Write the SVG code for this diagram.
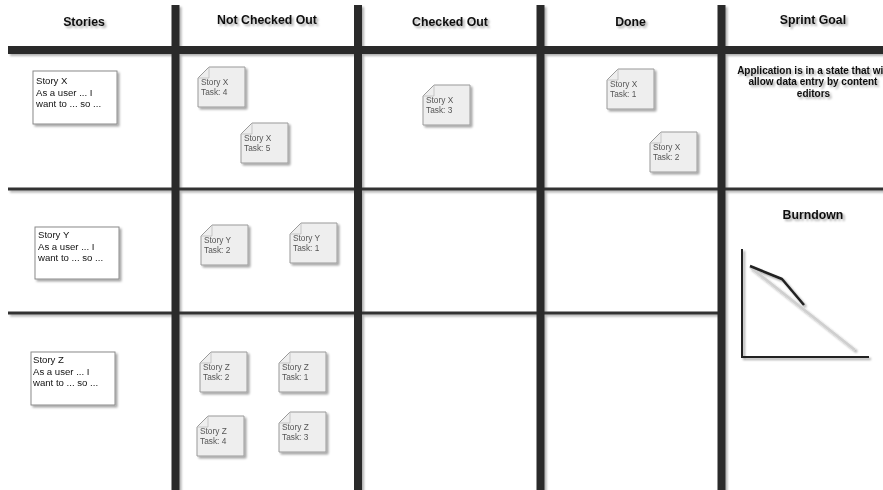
<svg xmlns="http://www.w3.org/2000/svg" width="883" height="490" viewBox="0 0 883 490">
  <defs>
    <filter id="shadow" x="-20%" y="-20%" width="140%" height="140%">
      <feDropShadow dx="2" dy="2" stdDeviation="1.2" flood-color="#000" flood-opacity="0.35"/>
    </filter>
    <filter id="lineShadow" x="-50%" y="-50%" width="200%" height="200%">
      <feDropShadow dx="2" dy="2" stdDeviation="1.3" flood-color="#000" flood-opacity="0.3"/>
    </filter>
    <!-- task sticky note with folded top-left corner, 47 x 40 -->
    <path id="note" d="M11,0 H47 V40 H0 V11 Z"/>
  </defs>
  <style>
    .bar { stroke: #2b2b2b; stroke-width: 8; fill: none; }
    .rule { stroke: #333; stroke-width: 3; fill: none; }
    .head { font-family: "Liberation Sans", Arial, sans-serif; font-weight: bold; font-size: 12.3px; fill: #111; text-anchor: middle; }
    .goal { font-family: "Liberation Sans", Arial, sans-serif; font-weight: bold; font-size: 10px; fill: #111; text-anchor: middle; }
    .card rect { fill: #fff; stroke: #8a8a8a; stroke-width: 1; }
    .card text { font-family: "Liberation Sans", Arial, sans-serif; font-size: 9.6px; fill: #111; }
    .task use { fill: #eeeeee; stroke: #9a9a9a; stroke-width: 1; }
    .task .fold { fill: none; stroke: #bbb; stroke-width: 0.8; }
    .task text { font-family: "Liberation Sans", Arial, sans-serif; font-size: 8.3px; fill: #555; }
    .axis { stroke: #222; stroke-width: 2; fill: none; }
    .ideal { stroke: #cfcfcf; stroke-width: 2.5; fill: none; }
    .actual { stroke: #222; stroke-width: 2.5; fill: none; stroke-linejoin: round; }
  </style>

  <rect width="883" height="490" fill="#fff"/>

  <!-- board grid -->
  <g id="grid" filter="url(#lineShadow)">
    <line class="rule" x1="8" y1="189" x2="883" y2="189"/>
    <line class="rule" x1="8" y1="313" x2="721" y2="313"/>
    <line class="bar" x1="8" y1="50" x2="883" y2="50"/>
    <line class="bar" x1="175.5" y1="5" x2="175.5" y2="490"/>
    <line class="bar" x1="358" y1="5" x2="358" y2="490"/>
    <line class="bar" x1="540.5" y1="5" x2="540.5" y2="490"/>
    <line class="bar" x1="721.5" y1="5" x2="721.5" y2="490"/>
  </g>

  <!-- column headings -->
  <g id="headings" filter="url(#shadow)">
    <text class="head" x="84" y="26">Stories</text>
    <text class="head" x="267" y="24">Not Checked Out</text>
    <text class="head" x="450" y="26">Checked Out</text>
    <text class="head" x="630.5" y="26">Done</text>
    <text class="head" x="813" y="24">Sprint Goal</text>
  </g>

  <!-- story cards -->
  <g id="story-x" class="card" filter="url(#shadow)">
    <rect x="33" y="71" width="84" height="53"/>
    <text x="36" y="84">Story X</text>
    <text x="36" y="95.5">As a user ... I</text>
    <text x="36" y="107">want to ... so ...</text>
  </g>
  <g id="story-y" class="card" filter="url(#shadow)">
    <rect x="35" y="227" width="84" height="52"/>
    <text x="38" y="238">Story Y</text>
    <text x="38" y="249.5">As a user ... I</text>
    <text x="38" y="261">want to ... so ...</text>
  </g>
  <g id="story-z" class="card" filter="url(#shadow)">
    <rect x="31" y="352" width="84" height="53"/>
    <text x="33" y="363">Story Z</text>
    <text x="33" y="374.5">As a user ... I</text>
    <text x="33" y="386">want to ... so ...</text>
  </g>

  <!-- task notes -->
  <g id="task-x4" class="task" filter="url(#shadow)" transform="translate(198,67)">
    <use href="#note"/><path class="fold" d="M0,11 L11,11 L11,0"/>
    <text x="3" y="18">Story X</text><text x="3" y="28">Task: 4</text>
  </g>
  <g id="task-x5" class="task" filter="url(#shadow)" transform="translate(241,123)">
    <use href="#note"/><path class="fold" d="M0,11 L11,11 L11,0"/>
    <text x="3" y="18">Story X</text><text x="3" y="28">Task: 5</text>
  </g>
  <g id="task-x3" class="task" filter="url(#shadow)" transform="translate(423,85)">
    <use href="#note"/><path class="fold" d="M0,11 L11,11 L11,0"/>
    <text x="3" y="18">Story X</text><text x="3" y="28">Task: 3</text>
  </g>
  <g id="task-x1" class="task" filter="url(#shadow)" transform="translate(607,69)">
    <use href="#note"/><path class="fold" d="M0,11 L11,11 L11,0"/>
    <text x="3" y="18">Story X</text><text x="3" y="28">Task: 1</text>
  </g>
  <g id="task-x2" class="task" filter="url(#shadow)" transform="translate(650,132)">
    <use href="#note"/><path class="fold" d="M0,11 L11,11 L11,0"/>
    <text x="3" y="18">Story X</text><text x="3" y="28">Task: 2</text>
  </g>
  <g id="task-y2" class="task" filter="url(#shadow)" transform="translate(201,225)">
    <use href="#note"/><path class="fold" d="M0,11 L11,11 L11,0"/>
    <text x="3" y="18">Story Y</text><text x="3" y="28">Task: 2</text>
  </g>
  <g id="task-y1" class="task" filter="url(#shadow)" transform="translate(290,223)">
    <use href="#note"/><path class="fold" d="M0,11 L11,11 L11,0"/>
    <text x="3" y="18">Story Y</text><text x="3" y="28">Task: 1</text>
  </g>
  <g id="task-z2" class="task" filter="url(#shadow)" transform="translate(200,352)">
    <use href="#note"/><path class="fold" d="M0,11 L11,11 L11,0"/>
    <text x="3" y="18">Story Z</text><text x="3" y="28">Task: 2</text>
  </g>
  <g id="task-z1" class="task" filter="url(#shadow)" transform="translate(279,352)">
    <use href="#note"/><path class="fold" d="M0,11 L11,11 L11,0"/>
    <text x="3" y="18">Story Z</text><text x="3" y="28">Task: 1</text>
  </g>
  <g id="task-z4" class="task" filter="url(#shadow)" transform="translate(197,416)">
    <use href="#note"/><path class="fold" d="M0,11 L11,11 L11,0"/>
    <text x="3" y="18">Story Z</text><text x="3" y="28">Task: 4</text>
  </g>
  <g id="task-z3" class="task" filter="url(#shadow)" transform="translate(279,412)">
    <use href="#note"/><path class="fold" d="M0,11 L11,11 L11,0"/>
    <text x="3" y="18">Story Z</text><text x="3" y="28">Task: 3</text>
  </g>

  <!-- sprint goal statement -->
  <g id="sprint-goal" filter="url(#shadow)">
    <text class="goal" x="813" y="73.5">Application is in a state that will</text>
    <text class="goal" x="813" y="85">allow data entry by content</text>
    <text class="goal" x="813.5" y="96.5">editors</text>
  </g>

  <!-- burndown chart -->
  <g id="burndown" filter="url(#shadow)">
    <text class="head" x="813" y="219">Burndown</text>
    <path class="ideal" d="M750,267 L855,350"/>
    <path class="axis" d="M742,249 V357 H869"/>
    <path class="actual" d="M750,266 L782,279 L804,305"/>
  </g>
</svg>
